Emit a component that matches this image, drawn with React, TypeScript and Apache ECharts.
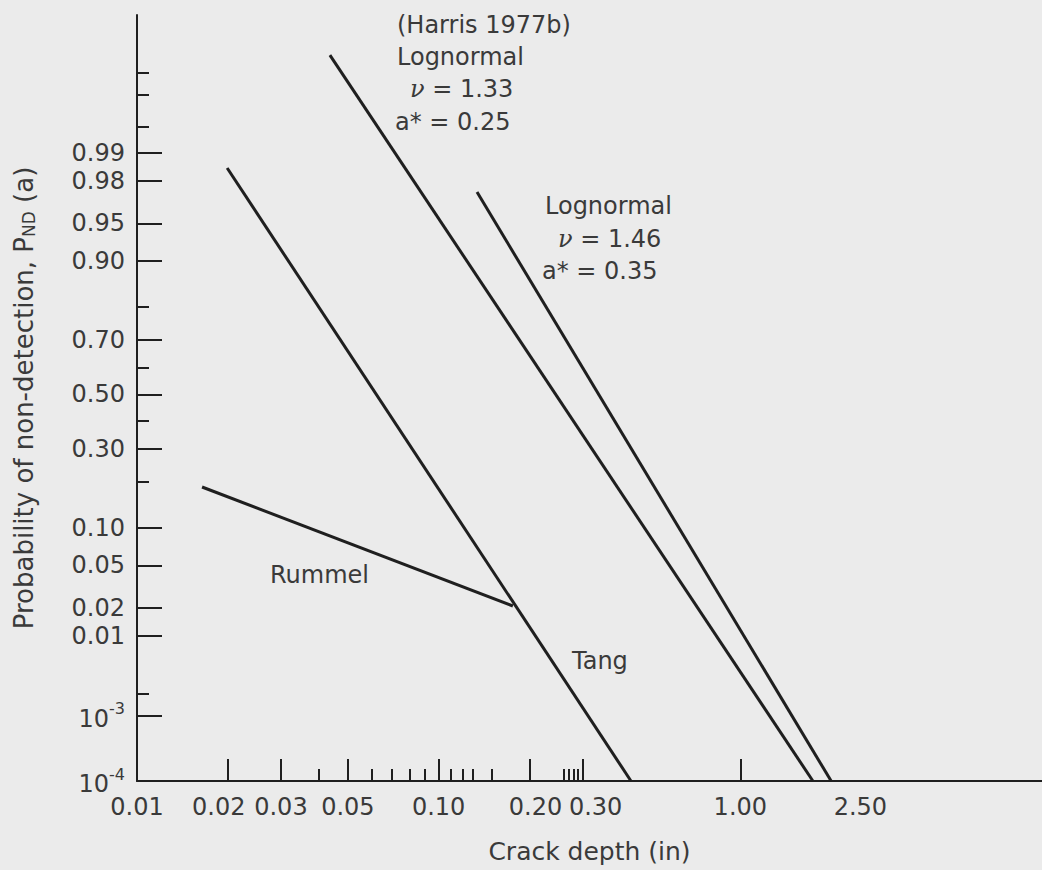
import React, { useEffect, useRef } from 'react';
import * as echarts from 'echarts';

// ---- axis definitions ----
const xLabelValues = [0.01, 0.02, 0.03, 0.05, 0.1, 0.2, 0.3, 1, 2.5];
const xLabelTexts = ['0.01', '0.02', '0.03', '0.05', '0.10', '0.20', '0.30', '1.00', '2.50'];
const xMajorTicks = [0.02, 0.03, 0.05, 0.1, 0.2, 0.3, 1];
const xMinorTicks = [0.04, 0.06, 0.07, 0.08, 0.09, 0.11, 0.12, 0.13, 0.15, 0.26, 0.27, 0.28, 0.29];

const yLabelValues = [0.99, 0.98, 0.95, 0.9, 0.7, 0.5, 0.3, 0.1, 0.05, 0.02, 0.01, 0.001, 0.0001];
const yLabelTexts = ['0.99', '0.98', '0.95', '0.90', '0.70', '0.50', '0.30', '0.10', '0.05', '0.02', '0.01', '{b|10}{sup|-3}', '{b|10}{sup|-4}'];
const yMinorTicks = [0.999, 0.998, 0.995, 0.8, 0.6, 0.4, 0.2, 0.002];
const yTopProbit = 3.65;

// ---- series: [crack depth (in), probability of non-detection] ----
const harrisLognormal133 = [[0.0436, 0.99945], [1.74, 0.0001]];
const lognormal146 = [[0.134, 0.9742], [2.0, 0.0001]];
const tang = [[0.0199, 0.9853], [0.434, 0.0001]];
const rummel = [[0.01643, 0.1865], [0.1762, 0.0209]];

// inverse normal CDF (Acklam)
function probit(p: number): number {
  const a = [-3.969683028665376e1, 2.209460984245205e2, -2.759285104469687e2, 1.38357751867269e2, -3.066479806614716e1, 2.506628277459239];
  const b = [-5.447609879822406e1, 1.615858368580409e2, -1.556989798598866e2, 6.680131188771972e1, -1.328068155288572e1];
  const c = [-7.784894002430293e-3, -3.223964580411365e-1, -2.400758277161838, -2.549732539343734, 4.374664141464968, 2.938163982698783];
  const d = [7.784695709041462e-3, 3.224671290700398e-1, 2.445134137142996, 3.754408661907416];
  const pl = 0.02425;
  let q: number, r: number;
  if (p < pl) {
    q = Math.sqrt(-2 * Math.log(p));
    return (((((c[0] * q + c[1]) * q + c[2]) * q + c[3]) * q + c[4]) * q + c[5]) / ((((d[0] * q + d[1]) * q + d[2]) * q + d[3]) * q + 1);
  } else if (p <= 1 - pl) {
    q = p - 0.5;
    r = q * q;
    return (((((a[0] * r + a[1]) * r + a[2]) * r + a[3]) * r + a[4]) * r + a[5]) * q / (((((b[0] * r + b[1]) * r + b[2]) * r + b[3]) * r + b[4]) * r + 1);
  }
  q = Math.sqrt(-2 * Math.log(1 - p));
  return -(((((c[0] * q + c[1]) * q + c[2]) * q + c[3]) * q + c[4]) * q + c[5]) / ((((d[0] * q + d[1]) * q + d[2]) * q + d[3]) * q + 1);
}

const FONT = '"DejaVu Sans", sans-serif';
const TEXT = '#3a3a3a';
const LINE = '#1f1f1f';
const BG = '#ebebeb';

const toSeries = (pts: number[][]) => pts.map(([x, p]) => [x, probit(p)]);

function lineSeries(name: string, pts: number[][]) {
  return {
    name,
    type: 'line',
    data: toSeries(pts),
    symbol: 'none',
    silent: true,
    lineStyle: { color: LINE, width: 3 },
    xAxisIndex: 0,
    yAxisIndex: 0,
  };
}

function txt(text: string, x: number, y: number, rich?: any) {
  return {
    type: 'text',
    x,
    y,
    silent: true,
    style: {
      text,
      fill: TEXT,
      fontSize: 24,
      fontFamily: FONT,
      align: 'left',
      verticalAlign: 'middle',
      textAlign: 'left',
      textVerticalAlign: 'middle',
      rich,
    },
  };
}

const nuRich = { nu: { fontSize: 24, fontFamily: 'DejaVu Serif, serif', fontStyle: 'italic', fill: TEXT, color: TEXT } };

const xTickLabelBase = { fontSize: 24, fontFamily: FONT, color: TEXT };

export default function App() {
  const ref = useRef<HTMLDivElement>(null);
  useEffect(() => {
    if (!ref.current) return;
    const chart = echarts.init(ref.current, undefined, { renderer: 'svg' });
    const yMin = probit(yLabelValues[yLabelValues.length - 1]);
    const yLabelProbits = yLabelValues.map(probit);
    // small horizontal nudges of a few tick labels (style only), as set in the original figure
    const xRichKey: Record<string, string> = { '0.02': 'l', '0.20': 'r1', '0.30': 'r2' };
    const xFmt = (v: number) => {
      for (let i = 0; i < xLabelValues.length; i++) {
        if (Math.abs(v - xLabelValues[i]) / xLabelValues[i] < 1e-3) {
          const t = xLabelTexts[i];
          const k = xRichKey[t];
          return k ? `{${k}|${t}}` : t;
        }
      }
      return '';
    };
    const yFmt = (v: number) => {
      for (let i = 0; i < yLabelProbits.length; i++) {
        if (Math.abs(v - yLabelProbits[i]) < 1e-3) return yLabelTexts[i];
      }
      return '';
    };
    const option: any = {
      animation: false,
      backgroundColor: BG,
      grid: { left: 137, top: 15, right: 0, bottom: 89, containLabel: false },
      xAxis: [
        {
          type: 'log',
          logBase: 10,
          min: 0.01,
          max: 10,
          name: 'Crack depth (in)',
          nameLocation: 'middle',
          nameGap: 58,
          nameTextStyle: { fontSize: 25, fontFamily: FONT, color: TEXT },
          axisLine: { show: true, onZero: false, lineStyle: { color: LINE, width: 2 } },
          axisTick: { show: true, inside: true, length: 22, customValues: xMajorTicks, lineStyle: { color: LINE, width: 2 } },
          axisLabel: {
            show: true,
            customValues: xLabelValues,
            formatter: xFmt,
            margin: 14,
            ...xTickLabelBase,
            rich: {
              l: { ...xTickLabelBase, padding: [0, 18, 0, 0] },
              r1: { ...xTickLabelBase, padding: [0, 0, 0, 12] },
              r2: { ...xTickLabelBase, padding: [0, 0, 0, 26] },
            },
          },
          splitLine: { show: false },
          minorTick: { show: false },
        },
        {
          type: 'log',
          logBase: 10,
          min: 0.01,
          max: 10,
          position: 'bottom',
          axisLine: { show: false, onZero: false },
          axisTick: { show: true, inside: true, length: 12, customValues: xMinorTicks, lineStyle: { color: LINE, width: 2 } },
          axisLabel: { show: false },
          splitLine: { show: false },
        },
      ],
      yAxis: [
        {
          type: 'value',
          min: yMin,
          max: yTopProbit,
          name: 'Probability of non-detection, P{sub|ND} (a)',
          nameLocation: 'middle',
          nameRotate: 90,
          nameGap: 100,
          nameTextStyle: {
            fontSize: 26,
            fontFamily: FONT,
            color: TEXT,
            rich: { sub: { fontSize: 17, fontFamily: FONT, color: TEXT, verticalAlign: 'bottom', padding: [10, 0, 0, 0] } },
          },
          axisLine: { show: true, onZero: false, lineStyle: { color: LINE, width: 2 } },
          axisTick: { show: true, inside: true, length: 25, customValues: yLabelProbits, lineStyle: { color: LINE, width: 2 } },
          axisLabel: {
            show: true,
            customValues: yLabelProbits,
            formatter: yFmt,
            margin: 12,
            fontSize: 24,
            fontFamily: FONT,
            color: TEXT,
            rich: {
              b: { fontSize: 24, fontFamily: FONT, color: TEXT, verticalAlign: 'bottom', padding: [6, 0, 0, 0] },
              sup: { fontSize: 16, fontFamily: FONT, color: TEXT, verticalAlign: 'top' },
            },
          },
          splitLine: { show: false },
        },
        {
          type: 'value',
          min: yMin,
          max: yTopProbit,
          position: 'left',
          axisLine: { show: false, onZero: false },
          axisTick: { show: true, inside: true, length: 12, customValues: yMinorTicks.map(probit), lineStyle: { color: LINE, width: 2 } },
          axisLabel: { show: false },
          splitLine: { show: false },
        },
      ],
      series: [
        lineSeries('Lognormal ν = 1.33', harrisLognormal133),
        lineSeries('Lognormal ν = 1.46', lognormal146),
        lineSeries('Tang', tang),
        lineSeries('Rummel', rummel),
      ],
      graphic: [
        txt('(Harris 1977b)', 397, 25),
        txt('Lognormal', 397, 57),
        txt('{nu|ν} = 1.33', 410, 89, nuRich),
        txt('a* = 0.25', 395, 122),
        txt('Lognormal', 545, 206),
        txt('{nu|ν} = 1.46', 558, 239, nuRich),
        txt('a* = 0.35', 542, 271),
        txt('Rummel', 270, 575),
        txt('Tang', 572, 661),
      ],
    };
    chart.setOption(option);
    return () => chart.dispose();
  }, []);
  return (
    <div
      ref={ref}
      style={{ position: 'fixed', left: 0, top: 0, width: 1042, height: 870, background: BG }}
    />
  );
}
